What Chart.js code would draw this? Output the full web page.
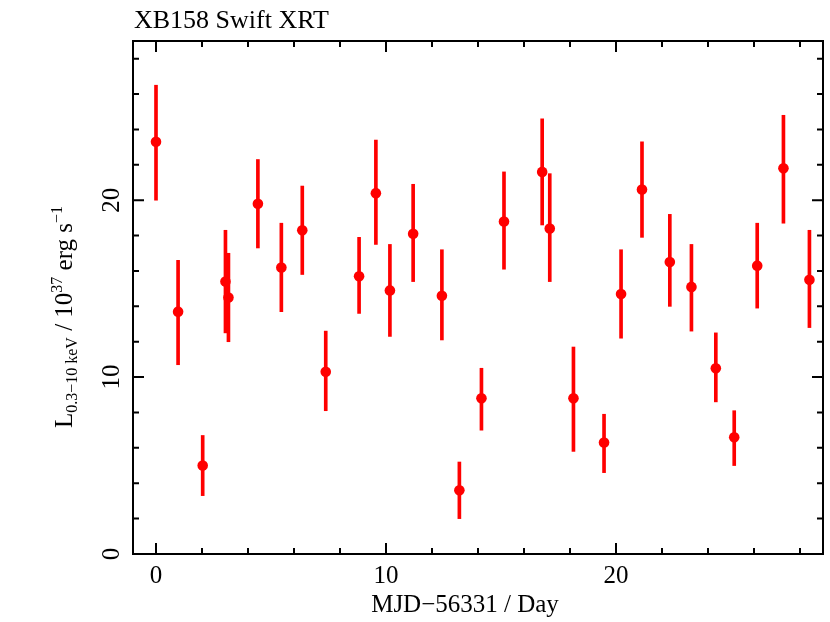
<!DOCTYPE html>
<html>
<head>
<meta charset="utf-8">
<title>XB158 Swift XRT</title>
<script src="https://cdn.jsdelivr.net/npm/chart.js@4"></script>
<style>
    html, body { margin: 0; padding: 0; background: #fff; }
    canvas { display: block; }
</style>
</head>
<body>
<canvas id="lc" width="830" height="622"></canvas>
<script>
// ── Data ───
const days   = [0.0, 0.96, 2.03, 3.02, 3.15, 4.43, 5.45, 6.36, 7.38, 8.83, 9.56, 10.17, 11.18, 12.43, 13.19, 14.15, 15.13, 16.79, 17.12, 18.15, 19.48, 20.22, 21.13, 22.34, 23.28, 24.34, 25.14, 26.14, 27.28, 28.41];
const lum    = [23.3, 13.7, 5.0, 15.4, 14.5, 19.8, 16.2, 18.3, 10.3, 15.7, 20.4, 14.9, 18.1, 14.6, 3.6, 8.8, 18.8, 21.6, 18.4, 8.8, 6.3, 14.7, 20.6, 16.5, 15.1, 10.5, 6.6, 16.3, 21.8, 15.5];
const lumLo  = [20.0, 10.7, 3.3, 12.5, 12.0, 17.3, 13.7, 15.8, 8.1, 13.6, 17.5, 12.3, 15.4, 12.1, 2.0, 7.0, 16.1, 18.6, 15.4, 5.8, 4.6, 12.2, 17.9, 14.0, 12.6, 8.6, 5.0, 13.9, 18.7, 12.8];
const lumHi  = [26.5, 16.6, 6.7, 18.3, 17.0, 22.3, 18.7, 20.8, 12.6, 17.9, 23.4, 17.5, 20.9, 17.2, 5.2, 10.5, 21.6, 24.6, 21.5, 11.7, 7.9, 17.2, 23.3, 19.2, 17.5, 12.5, 8.1, 18.7, 24.8, 18.3];
const xTicks = [0, 10, 20];
const yTicks = [0, 10, 20];

const RED = '#ff0000';
const SERIF = '"Liberation Serif", "DejaVu Serif", serif';

// ── Frame, inward ticks, labels ───────
const framePlugin = {
    id: 'frame',
    afterDraw(chart) {
        const { ctx, chartArea: a, scales: { x, y } } = chart;
        ctx.save();
        ctx.strokeStyle = '#000';
        ctx.lineWidth = 2;
        ctx.strokeRect(a.left, a.top, a.right - a.left, a.bottom - a.top);

        // minor ticks every 2, major every 10, on all four sides
        ctx.beginPath();
        for (let v = 0; v <= 28; v += 2) {
            const len = v % 10 === 0 ? 11 : 6;
            const px = x.getPixelForValue(v);
            ctx.moveTo(px, a.bottom); ctx.lineTo(px, a.bottom - len);
            ctx.moveTo(px, a.top); ctx.lineTo(px, a.top + len);
            const py = y.getPixelForValue(v);
            if (v > 0) {
                ctx.moveTo(a.left, py); ctx.lineTo(a.left + len, py);
                ctx.moveTo(a.right, py); ctx.lineTo(a.right - len, py);
            }
        }
        ctx.stroke();

        ctx.fillStyle = '#000';
        ctx.font = '25px ' + SERIF;
        ctx.textAlign = 'center';
        ctx.textBaseline = 'alphabetic';
        xTicks.forEach(v => ctx.fillText(String(v), x.getPixelForValue(v), 583));
        ctx.fillText('MJD\u221256331 / Day', 465, 612);

        // y tick labels, rotated
        yTicks.forEach(v => {
            ctx.save();
            ctx.translate(119, y.getPixelForValue(v));
            ctx.rotate(-Math.PI / 2);
            ctx.fillText(String(v), 0, 0);
            ctx.restore();
        });

        // y title with sub/superscripts
        const parts = [
            { t: 'L', s: 25, dy: 0 },
            { t: '0.3\u221210 keV', s: 16, dy: 5 },
            { t: ' / 10', s: 25, dy: 0 },
            { t: '37', s: 16, dy: -10 },
            { t: ' erg s', s: 25, dy: 0 },
            { t: '\u22121', s: 16, dy: -10 }
        ];
        let total = 0;
        parts.forEach(p => { ctx.font = p.s + 'px ' + SERIF; p.w = ctx.measureText(p.t).width; total += p.w; });
        ctx.save();
        ctx.translate(72, 317);
        ctx.rotate(-Math.PI / 2);
        ctx.textAlign = 'left';
        let cx = -total / 2;
        parts.forEach(p => {
            ctx.font = p.s + 'px ' + SERIF;
            ctx.fillText(p.t, cx, p.dy);
            cx += p.w;
        });
        ctx.restore();

        ctx.textAlign = 'left';
        ctx.font = '26px ' + SERIF;
        ctx.fillText('XB158 Swift XRT', 134, 28);
        ctx.restore();
    }
};

// ── Chart ─────────────────────────────
new Chart(document.getElementById('lc'), {
    data: {
        datasets: [
            {
                type: 'bar',
                label: 'error',
                data: days.map((d, i) => ({ x: d, y: [lumLo[i], lumHi[i]] })),
                backgroundColor: RED,
                borderWidth: 0,
                barThickness: 3,
                order: 2
            },
            {
                type: 'scatter',
                label: 'L',
                data: days.map((d, i) => ({ x: d, y: lum[i] })),
                backgroundColor: RED,
                borderWidth: 0,
                pointRadius: 5.3,
                order: 1
            }
        ]
    },
    options: {
        responsive: false,
        animation: false,
        layout: { padding: { left: 133, right: 7, top: 41, bottom: 68 } },
        plugins: { legend: { display: false }, tooltip: { enabled: false } },
        scales: {
            x: { type: 'linear', min: -1, max: 29, offset: false, display: false },
            y: { type: 'linear', min: 0, max: 29, display: false }
        }
    },
    plugins: [framePlugin]
});
</script>
</body>
</html>
